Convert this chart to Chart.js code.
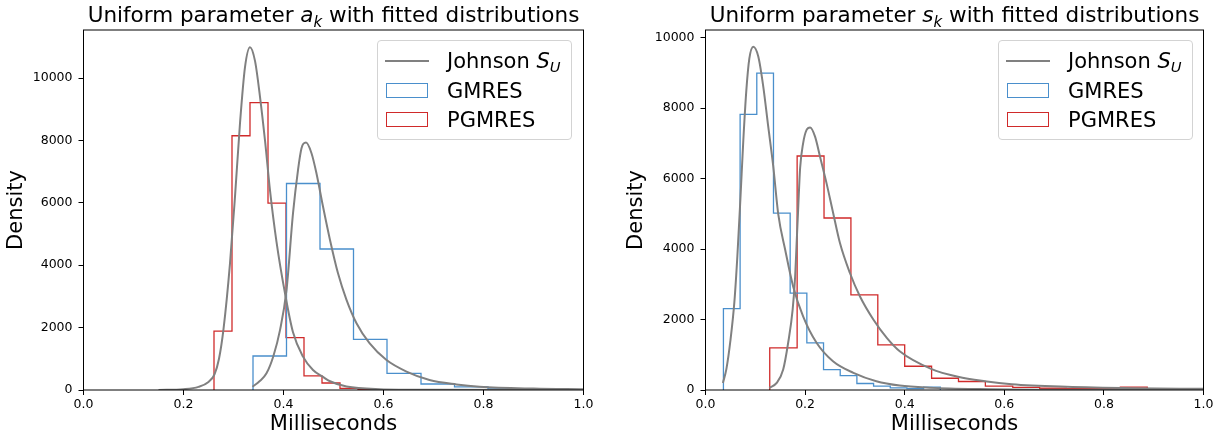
<!DOCTYPE html>
<html>
<head>
<meta charset="utf-8">
<script src="https://cdn.jsdelivr.net/npm/chart.js@4.4.1/dist/chart.umd.min.js"></script>
<style>
  html, body { margin: 0; padding: 0; background: #fff; }
  body { width: 1228px; height: 437px; position: relative; overflow: hidden; font-family: 'DejaVu Sans', sans-serif; color: #000; }
  canvas { position: absolute; top: 0; }
  #leftChart { left: 0; }
  #rightChart { left: 620px; }
  .title { position: absolute; top: 3px; font-size: 21.5px; line-height: 24px; white-space: nowrap; transform: translateX(-50%); }
  .sub { font-size: 0.7em; position: relative; top: 0.3em; font-style: italic; }
  .legend { position: absolute; top: 40px; width: 195px; height: 100px; border: 1px solid #d3d3d3; border-radius: 4px; background: rgba(255,255,255,0.8); box-sizing: border-box; font-size: 21px; }
  .item { position: absolute; left: 0; height: 24px; line-height: 24px; white-space: nowrap; }
  .item span.label { position: absolute; left: 69px; top: 0; }
  .line { position: absolute; left: 7px; top: 11px; width: 44px; height: 2px; background: #808080; }
  .box { position: absolute; left: 8px; top: 4px; width: 42px; height: 15px; box-sizing: border-box; background: #fff; }
</style>
</head>
<body>
<canvas id="leftChart" width="600" height="437"></canvas>
<canvas id="rightChart" width="600" height="437"></canvas>

<div class="title" style="left:333.5px">Uniform parameter <i>a</i><span class="sub">k</span> with fitted distributions</div>
<div class="title" style="left:954.5px">Uniform parameter <i>s</i><span class="sub">k</span> with fitted distributions</div>

<div class="legend" style="left:377px">
  <div class="item" style="top:8px"><div class="line"></div><span class="label">Johnson <i>S</i><span class="sub">U</span></span></div>
  <div class="item" style="top:38px"><div class="box" style="border:1.3px solid #4a8fcc"></div><span class="label">GMRES</span></div>
  <div class="item" style="top:67px"><div class="box" style="border:1.3px solid #d02a2a"></div><span class="label">PGMRES</span></div>
</div>
<div class="legend" style="left:998px">
  <div class="item" style="top:8px"><div class="line"></div><span class="label">Johnson <i>S</i><span class="sub">U</span></span></div>
  <div class="item" style="top:38px"><div class="box" style="border:1.3px solid #4a8fcc"></div><span class="label">GMRES</span></div>
  <div class="item" style="top:67px"><div class="box" style="border:1.3px solid #d02a2a"></div><span class="label">PGMRES</span></div>
</div>

<script>
// axis ticks
const xTicks = [0, 0.2, 0.4, 0.6, 0.8, 1.0];
const xTickLabels = ['0.0', '0.2', '0.4', '0.6', '0.8', '1.0'];
const yTicks = [0, 2000, 4000, 6000, 8000, 10000];
const leftYMax = 11540;
const rightYMax = 10215;

// left panel: a_k
const aGmresEdges = [0.339, 0.406, 0.473, 0.540, 0.607, 0.675, 0.742, 0.809, 0.876, 0.943, 1.010];
const aGmresDensity = [1090, 6620, 4520, 1620, 535, 192, 100, 35, 15, 8];
const aPgmresEdges = [0.261, 0.297, 0.333, 0.369, 0.405, 0.441, 0.477, 0.513, 0.549, 0.585, 0.621];
const aPgmresDensity = [1890, 8150, 9210, 5990, 1680, 450, 225, 55, 20, 10];

const aGmresFitX = [0.338, 0.352, 0.366, 0.380, 0.393, 0.406, 0.419, 0.429, 0.436, 0.445, 0.456, 0.466, 0.479, 0.493, 0.509, 0.526, 0.546, 0.572, 0.606, 0.646, 0.692, 0.746, 0.792, 0.900, 1.000];
const aGmresFitY = [105, 280, 535, 1100, 1920, 3200, 5660, 7050, 7750, 7930, 7590, 6940, 5880, 4810, 3740, 2890, 2140, 1500, 960, 590, 320, 180, 107, 45, 22];
const aPgmresFitX = [0.150, 0.200, 0.230, 0.250, 0.262, 0.271, 0.280, 0.293, 0.303, 0.313, 0.323, 0.333, 0.343, 0.353, 0.363, 0.373, 0.386, 0.403, 0.419, 0.439, 0.459, 0.479, 0.493, 0.526, 0.592, 0.700, 1.000];
const aPgmresFitY = [0, 25, 100, 260, 500, 1000, 1950, 4060, 6200, 8550, 10350, 10990, 10550, 9400, 8000, 6400, 4750, 3100, 1850, 1070, 640, 420, 280, 110, 25, 5, 0];

// right panel: s_k
const sGmresEdges = [0.036, 0.0695, 0.103, 0.1365, 0.170, 0.2035, 0.237, 0.2705, 0.304, 0.3375, 0.371, 0.4045, 0.438, 0.4715];
const sGmresDensity = [2310, 7820, 8990, 5020, 2750, 1340, 580, 410, 184, 110, 60, 40, 80];
const sPgmresEdges = [0.129, 0.184, 0.238, 0.292, 0.346, 0.400, 0.454, 0.508, 0.562, 0.617, 0.671, 0.725, 0.779, 0.833, 0.887];
const sPgmresDensity = [1195, 6640, 4880, 2700, 1280, 674, 334, 241, 108, 75, 50, 40, 40, 80];

const sGmresFitX = [0.035, 0.042, 0.050, 0.058, 0.064, 0.070, 0.076, 0.082, 0.088, 0.096, 0.106, 0.116, 0.126, 0.136, 0.146, 0.160, 0.176, 0.196, 0.223, 0.256, 0.297, 0.343, 0.390, 0.450, 0.550, 0.700, 1.000];
const sGmresFitY = [200, 600, 1400, 2500, 3800, 5400, 7100, 8500, 9400, 9740, 9460, 8610, 7470, 6350, 5000, 3980, 2940, 2090, 1340, 816, 487, 250, 127, 65, 25, 8, 0];
const sPgmresFitX = [0.128, 0.143, 0.156, 0.166, 0.175, 0.180, 0.183, 0.186, 0.190, 0.196, 0.203, 0.210, 0.220, 0.230, 0.243, 0.255, 0.270, 0.290, 0.310, 0.337, 0.364, 0.390, 0.453, 0.507, 0.561, 0.615, 0.725, 0.858, 1.000];
const sPgmresFitY = [60, 200, 580, 1340, 2280, 3220, 4170, 5110, 6300, 7000, 7380, 7450, 7190, 6620, 5870, 5110, 4170, 3320, 2660, 2000, 1480, 1100, 600, 374, 249, 164, 91, 51, 34];

const gmresColor = '#4a8fcc';
const pgmresColor = '#d02a2a';
const fitColor = '#808080';
const font = 'DejaVu Sans';

// outline of a step histogram, open at the bottom
function stepPoints(edges, heights) {
  const pts = [{ x: edges[0], y: 0 }];
  heights.forEach((h, i) => pts.push({ x: edges[i], y: h }));
  pts.push({ x: edges[edges.length - 1], y: 0 });
  return pts;
}

function curvePoints(xs, ys) {
  return xs.map((x, i) => ({ x: x, y: ys[i] }));
}

// box around the plot area, like matplotlib spines
const framePlugin = {
  id: 'frame',
  afterDatasetsDraw(chart) {
    const { ctx, chartArea: a } = chart;
    ctx.save();
    ctx.strokeStyle = '#000';
    ctx.lineWidth = 1;
    ctx.strokeRect(a.left, a.top, a.right - a.left, a.bottom - a.top);
    ctx.restore();
  }
};

function makeChart(id, yAxisWidth, yMax, sets) {
  new Chart(document.getElementById(id), {
    type: 'line',
    data: {
      datasets: [
        { data: curvePoints(sets.gFitX, sets.gFitY), borderColor: fitColor, borderWidth: 2, pointRadius: 0, cubicInterpolationMode: 'monotone' },
        { data: curvePoints(sets.pFitX, sets.pFitY), borderColor: fitColor, borderWidth: 2, pointRadius: 0, cubicInterpolationMode: 'monotone' },
        { data: stepPoints(sets.gEdges, sets.gDensity), borderColor: gmresColor, borderWidth: 1.3, pointRadius: 0, stepped: 'before' },
        { data: stepPoints(sets.pEdges, sets.pDensity), borderColor: pgmresColor, borderWidth: 1.3, pointRadius: 0, stepped: 'before' }
      ]
    },
    options: {
      responsive: false,
      animation: false,
      layout: { padding: { top: 30, right: 16.5, left: 0, bottom: 0 } },
      plugins: { legend: { display: false }, tooltip: { enabled: false } },
      scales: {
        x: {
          type: 'linear',
          min: 0,
          max: 1,
          afterBuildTicks: s => { s.ticks = xTicks.map(v => ({ value: v })); },
          afterFit: s => { s.height = 47; s.paddingLeft = 0; s.paddingRight = 0; },
          grid: { drawOnChartArea: false, tickLength: 5, tickColor: '#000' },
          border: { display: false },
          ticks: {
            color: '#000', padding: 2, maxRotation: 0,
            font: { family: font, size: 12.5 },
            callback: (v) => xTickLabels[xTicks.indexOf(v)]
          },
          title: { display: true, text: 'Milliseconds', color: '#000', padding: { top: 0, bottom: 0 }, font: { family: font, size: 21, lineHeight: 1.15 } }
        },
        y: {
          min: 0,
          max: yMax,
          afterBuildTicks: s => { s.ticks = yTicks.map(v => ({ value: v })); },
          afterFit: s => { s.width = yAxisWidth; s.paddingTop = 0; s.paddingBottom = 0; },
          grid: { drawOnChartArea: false, tickLength: 5, tickColor: '#000' },
          border: { display: false },
          ticks: { color: '#000', padding: 6, font: { family: font, size: 12.5 }, callback: v => String(v) },
          title: { display: true, text: 'Density', color: '#000', padding: { top: 4, bottom: 0 }, font: { family: font, size: 21, lineHeight: 1.15 } }
        }
      }
    },
    plugins: [framePlugin]
  });
}

makeChart('leftChart', 83.5, leftYMax, {
  gEdges: aGmresEdges, gDensity: aGmresDensity, pEdges: aPgmresEdges, pDensity: aPgmresDensity,
  gFitX: aGmresFitX, gFitY: aGmresFitY, pFitX: aPgmresFitX, pFitY: aPgmresFitY
});
makeChart('rightChart', 85.5, rightYMax, {
  gEdges: sGmresEdges, gDensity: sGmresDensity, pEdges: sPgmresEdges, pDensity: sPgmresDensity,
  gFitX: sGmresFitX, gFitY: sGmresFitY, pFitX: sPgmresFitX, pFitY: sPgmresFitY
});
</script>
</body>
</html>
